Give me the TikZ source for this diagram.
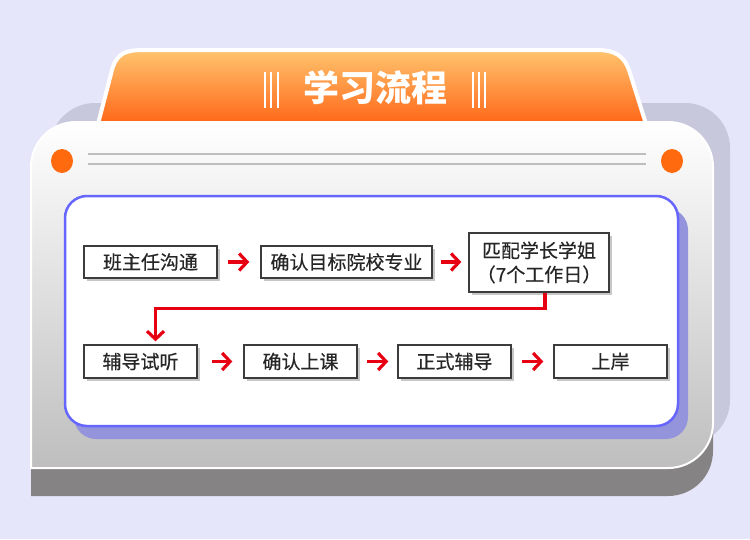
\documentclass[tikz,border=0pt]{standalone}
\usepackage{fontspec}
\setmainfont{Noto Sans CJK SC}
\newfontfamily\stepfont[FakeBold=0.4]{Noto Sans CJK SC}
\usepackage{xcolor}
\usetikzlibrary{arrows.meta,positioning,shadows,calc}
\definecolor{bgpage}{HTML}{E6E6FA}
\definecolor{backcard}{HTML}{C8C8DC}
\definecolor{cardfoot}{HTML}{858383}
\definecolor{cardlow}{HTML}{BEBEBE}
\definecolor{tabtop}{HTML}{FFC46E}
\definecolor{tablow}{HTML}{FF6618}
\definecolor{dotorange}{HTML}{FF6A0E}
\definecolor{panelline}{HTML}{6666FF}
\definecolor{panelshade}{HTML}{9494DC}
\definecolor{boxline}{HTML}{3C3C3C}
\definecolor{flowred}{HTML}{E60012}
\tikzset{
  fbox/.style={draw=boxline,fill=white,line width=1.4pt,align=center,inner sep=2pt,
    font=\stepfont\fontsize{19}{24}\selectfont,text=black!85,
    drop shadow={shadow xshift=3pt,shadow yshift=-3pt,fill=black!22,opacity=1}},
  farr/.style={-{Straight Barb[length=8pt,width=17pt]},line width=3.2pt,draw=flowred},
  fbar/.style={draw=white,line width=2pt},
  fgrey/.style={draw=cardlow,line width=2pt}
}

\begin{document}
\begin{tikzpicture}[x=1pt,y=-1pt]
  \fill[bgpage] (0,0) rectangle (750,539);
  \useasboundingbox (0,0) rectangle (750,539);
  % card layers
  \fill[backcard,rounded corners=45pt] (50,103) rectangle (730,445);
  \fill[cardfoot] (31,160) -- (713,160) -- (713,451) .. controls (713,476) and (693,496) .. (668,496)
    -- (31,496) -- cycle;
  \draw[white,line width=4pt,top color=tabtop,bottom color=tablow]
    (98,124) -- (112,70) .. controls (117,52) and (127,50) .. (145,50)
    -- (597,50) .. controls (615,50) and (624,56) .. (629,70) -- (646,124);
  \draw[white,line width=2pt,top color=white,bottom color=cardlow]
    (31,167) .. controls (31,142) and (51,122) .. (76,122) -- (668,122)
    .. controls (693,122) and (713,142) .. (713,167) -- (713,423)
    .. controls (713,448) and (693,468) .. (668,468) -- (31,468) -- cycle;
  % title
  \node[text=white,font=\fontsize{36}{40}\selectfont\bfseries] (title) at (375,88) {学习流程};
  \foreach \x in {265,271,277.5,472.5,479,485}{
    \draw[fbar] (\x,72) -- (\x,108);
  }
  \fill[dotorange] (62,161) ellipse [x radius=11,y radius=12];
  \fill[dotorange] (672,161) ellipse [x radius=11,y radius=12];
  \draw[fgrey] (88,154) -- (646,154);
  \draw[fgrey] (88,164) -- (646,164);
  % panel
  \fill[panelshade,rounded corners=22pt] (74,208) rectangle (688,439);
  \draw[panelline,line width=2.5pt,fill=white,rounded corners=22pt] (65,196) rectangle (678,426);
  % steps
  \node[fbox,minimum width=133pt,minimum height=32pt] (n1) at (150.5,262) {班主任沟通};
  \node[fbox,minimum width=171pt,minimum height=32pt] (n2) at (346.5,262) {确认目标院校专业};
  \node[fbox,minimum width=140pt,minimum height=59pt] (n3) at (539,262.5) {匹配学长学姐\\（7个工作日）};
  \foreach \x/\txt/\nm in {140.5/辅导试听/n4,300.5/确认上课/n5,454.5/正式辅导/n6,610.5/上岸/n7}{
    \node[fbox,minimum width=113pt,minimum height=33pt] (\nm) at (\x,361.5) {\txt};
  }
  \draw[farr,shorten <=10pt,shorten >=11pt] (n1) -- (n2);
  \draw[farr,shorten <=8pt,shorten >=7pt] (n2) -- (n3.west |- n2);
  \draw[farr,shorten <=14pt,shorten >=11pt] (n4) -- (n5);
  \draw[farr,shorten <=9pt,shorten >=9pt] (n5) -- (n6);
  \draw[farr,shorten <=10pt,shorten >=10pt] (n6) -- (n7);
  \draw[farr,shorten >=3pt] ([xshift=6pt]n3.south) -- ++(0,16) -| ([xshift=15pt]n4.north);
\end{tikzpicture}
\end{document}
